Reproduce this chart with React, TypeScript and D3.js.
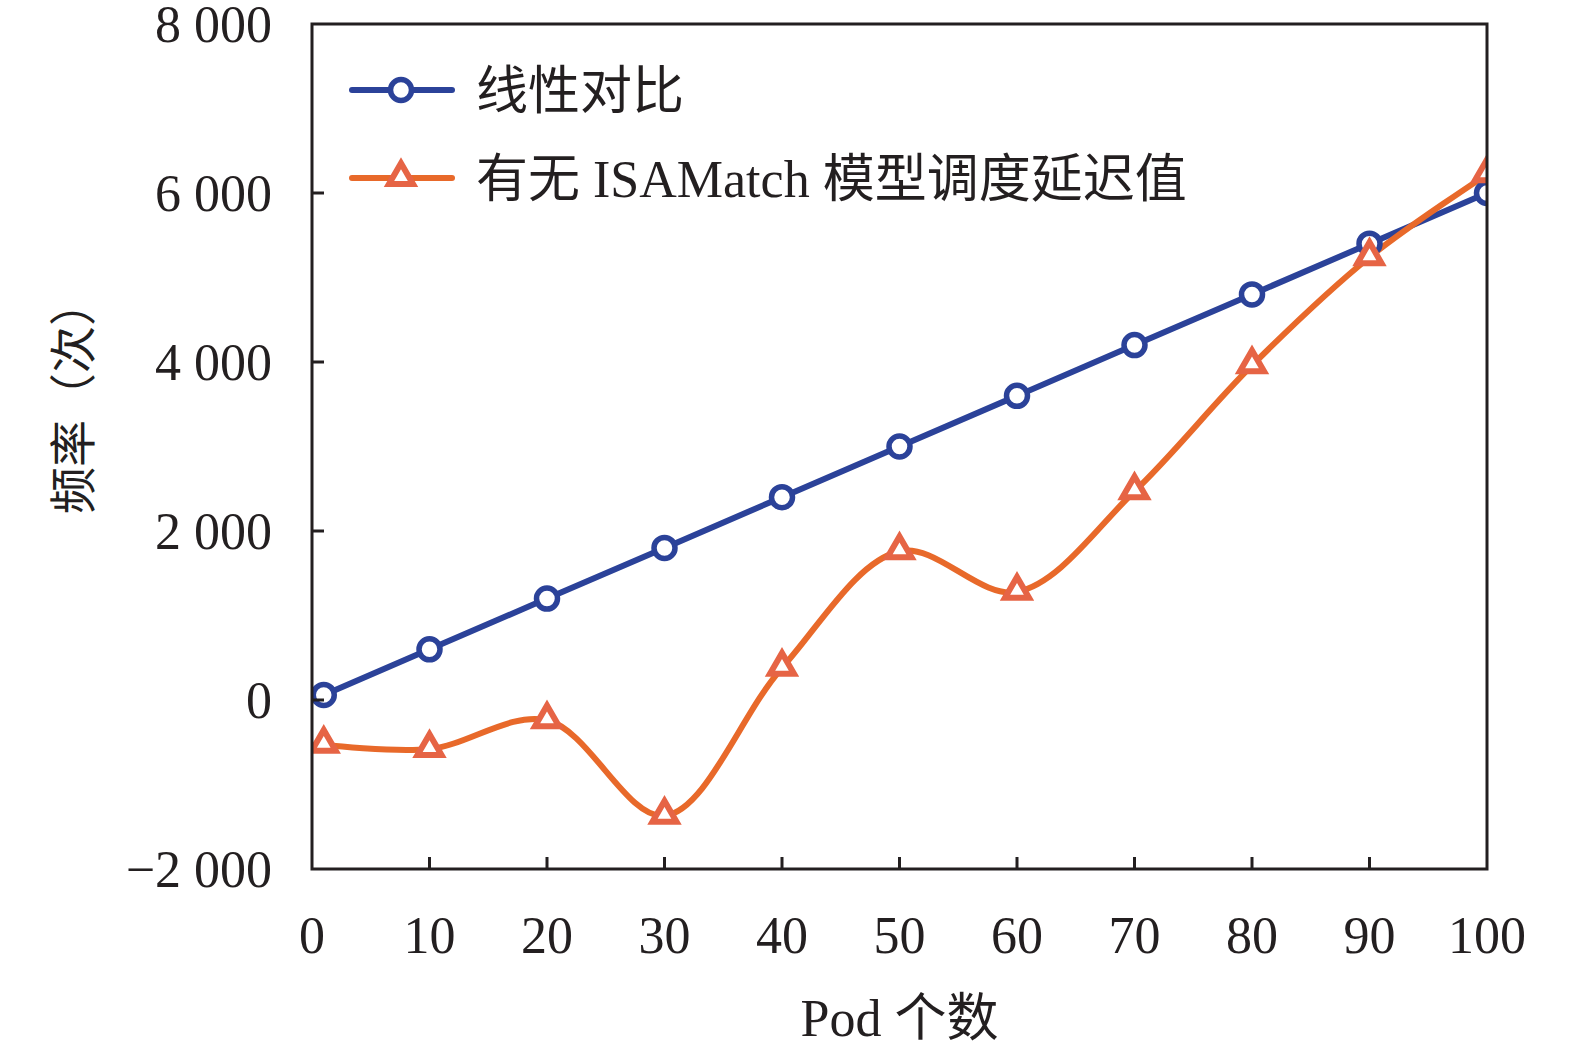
import React, { useEffect, useRef } from "react";
import * as d3 from "d3";

const width = 1575;
const height = 1058;

const pods = [1, 10, 20, 30, 40, 50, 60, 70, 80, 90, 100];
const linear = [60, 600, 1200, 1800, 2400, 3000, 3600, 4200, 4800, 5400, 6000];
const delay = [-530, -580, -240, -1370, 380, 1760, 1280, 2470, 3960, 5240, 6220];

const xTicks = [0, 10, 20, 30, 40, 50, 60, 70, 80, 90, 100];
const yTicks = [-2000, 0, 2000, 4000, 6000, 8000];

const seriesNames = ["线性对比", "有无 ISAMatch 模型调度延迟值"];

const blue = "#2b4299";
const orange = "#e8692a";
const orangeMarker = "#e66445";
const ink = "#231f20";
const font = "'Liberation Serif', 'Times New Roman', 'Noto Sans CJK SC', serif";

const margin = { top: 24, right: 88, bottom: 189, left: 312 };

const fmt = (v: number) => {
    const s = d3.format(",")(Math.abs(v)).replace(/,/g, " ");
    return v < 0 ? "\u2212" + s : s;
};

const App = () => {
    const ref = useRef<SVGSVGElement>(null);

    useEffect(() => {
        const svg = d3.select(ref.current);
        svg.selectAll("*").remove();

        const x = d3.scaleLinear().domain([0, 100]).range([margin.left, width - margin.right]);
        const y = d3.scaleLinear().domain([-2000, 8000]).range([height - margin.bottom, margin.top]);

        svg.append("defs").append("clipPath").attr("id", "plotClip")
            .append("rect")
            .attr("x", x(0)).attr("y", y(8000))
            .attr("width", x(100) - x(0)).attr("height", y(-2000) - y(8000));

        const plot = svg.append("g").attr("clip-path", "url(#plotClip)");

        // blue straight line
        const line1 = d3.line<number>().x((_, i) => x(pods[i])).y(d => y(d));
        plot.append("path")
            .attr("d", line1(linear))
            .attr("fill", "none")
            .attr("stroke", blue)
            .attr("stroke-width", 6);

        // orange smooth curve
        const line2 = d3.line<number>().x((_, i) => x(pods[i])).y(d => y(d)).curve(d3.curveCatmullRom.alpha(0.5));
        plot.append("path")
            .attr("d", line2(delay))
            .attr("fill", "none")
            .attr("stroke", orange)
            .attr("stroke-width", 6);

        plot.append("g").selectAll("circle")
            .data(linear)
            .join("circle")
            .attr("cx", (_, i) => x(pods[i]))
            .attr("cy", d => y(d))
            .attr("r", 10.5)
            .attr("fill", "white")
            .attr("stroke", blue)
            .attr("stroke-width", 5.5);

        const tri = d3.symbol().type(d3.symbolTriangle).size(250);
        plot.append("g").selectAll("path")
            .data(delay)
            .join("path")
            .attr("d", tri)
            .attr("transform", (d, i) => `translate(${x(pods[i])},${y(d) - 1})`)
            .attr("fill", "white")
            .attr("stroke", orangeMarker)
            .attr("stroke-width", 6)
            .attr("stroke-linejoin", "miter");

        // frame
        svg.append("rect")
            .attr("x", x(0)).attr("y", y(8000))
            .attr("width", x(100) - x(0)).attr("height", y(-2000) - y(8000))
            .attr("fill", "none")
            .attr("stroke", ink)
            .attr("stroke-width", 3);

        // ticks
        const ticks = svg.append("g").attr("stroke", ink).attr("stroke-width", 3);
        ticks.selectAll("line.y")
            .data(yTicks.filter(t => t > -2000 && t < 8000))
            .join("line")
            .attr("class", "y")
            .attr("x1", x(0)).attr("x2", x(0) + 12)
            .attr("y1", d => y(d)).attr("y2", d => y(d));
        ticks.selectAll("line.x")
            .data(xTicks.filter(t => t > 0 && t < 100))
            .join("line")
            .attr("class", "x")
            .attr("x1", d => x(d)).attr("x2", d => x(d))
            .attr("y1", y(-2000)).attr("y2", y(-2000) - 12);

        const labels = svg.append("g").attr("font-family", font).attr("font-size", 52).attr("fill", ink);

        labels.selectAll("text.y")
            .data(yTicks)
            .join("text")
            .attr("class", "y")
            .attr("x", x(0) - 40)
            .attr("y", d => y(d))
            .attr("dy", "0.35em")
            .attr("text-anchor", "end")
            .text(fmt);

        labels.selectAll("text.x")
            .data(xTicks)
            .join("text")
            .attr("class", "x")
            .attr("x", d => x(d))
            .attr("y", y(-2000) + 84)
            .attr("text-anchor", "middle")
            .text(d => d);

        labels.append("text")
            .attr("x", (x(0) + x(100)) / 2)
            .attr("y", 1036)
            .attr("text-anchor", "middle")
            .text("Pod 个数");

        labels.append("text")
            .attr("transform", `translate(90,${(y(8000) + y(-2000)) / 2 - 50}) rotate(-90)`)
            .attr("text-anchor", "middle")
            .attr("font-size", 47)
            .text("频率（次）");

        // legend
        const legend = svg.append("g");
        const rows = [
            { name: seriesNames[0], color: blue, marker: "circle" },
            { name: seriesNames[1], color: orange, marker: "triangle" },
        ];
        rows.forEach((r, i) => {
            const ly = 90 + i * 88;
            legend.append("line")
                .attr("x1", 352).attr("x2", 452)
                .attr("y1", ly).attr("y2", ly)
                .attr("stroke", r.color).attr("stroke-width", 6)
                .attr("stroke-linecap", "round");
            if (r.marker === "circle") {
                legend.append("circle")
                    .attr("cx", 401).attr("cy", ly).attr("r", 10.5)
                    .attr("fill", "white").attr("stroke", r.color).attr("stroke-width", 5.5);
            } else {
                legend.append("path")
                    .attr("d", tri)
                    .attr("transform", `translate(401,${ly - 1})`)
                    .attr("fill", "white").attr("stroke", orangeMarker).attr("stroke-width", 6);
            }
            legend.append("text")
                .attr("x", 476).attr("y", ly)
                .attr("dy", "0.36em")
                .attr("font-family", font)
                .attr("font-size", 52)
                .attr("fill", ink)
                .text(r.name);
        });
    }, []);

    return (
        <svg ref={ref} width={width} height={height}
            style={{ display: "block", position: "absolute", left: 0, top: 0, background: "white" }} />
    );
};

export default App;
